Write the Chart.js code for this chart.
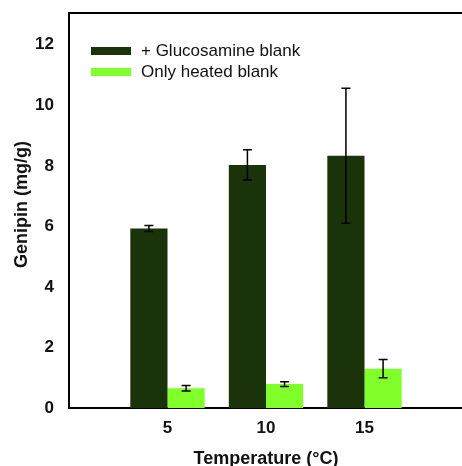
<!DOCTYPE html>
<html>
<head>
<meta charset="utf-8">
<script src="https://cdn.jsdelivr.net/npm/chart.js@4/dist/chart.umd.min.js"></script>
<style>
  html, body { margin: 0; padding: 0; background: #fff; overflow: hidden; }
  #wrap { width: 465px; height: 466px; position: relative; }
</style>
</head>
<body>
<div id="wrap"><canvas id="c"></canvas></div>
<script>
// Temperatures (°C)
const categories = ['5', '10', '15'];

// Genipin (mg/g) with the glucosamine blank, and standard deviations
const glucosamine = [5.93, 8.03, 8.33];
const glucosamineErr = [0.1, 0.5, 2.23];

// Genipin (mg/g) with the heated-only blank, and standard deviations
const heated = [0.65, 0.79, 1.3];
const heatedErr = [0.09, 0.08, 0.3];

const yTicks = [0, 2, 4, 6, 8, 10, 12];
const yTitle = 'Genipin (mg/g)';

const FONT = "'Liberation Sans', Arial, sans-serif";
const DARK = '#1b330b';
const LIGHT = '#80ff2a';

// Empty slots at both ends leave a gap before the first and after the last group
const labels = ['', ...categories, ''];
const pad = arr => [null, ...arr, null];

const errorBars = {
  id: 'errorBars',
  afterDatasetsDraw(chart) {
    const { ctx } = chart;
    const y = chart.scales.y;
    chart.data.datasets.forEach((ds, di) => {
      const meta = chart.getDatasetMeta(di);
      meta.data.forEach((bar, i) => {
        const v = ds.data[i];
        const e = ds.errors[i];
        if (v == null || e == null) return;
        const x = bar.x;
        const top = y.getPixelForValue(v + e);
        const bot = y.getPixelForValue(v - e);
        ctx.save();
        ctx.strokeStyle = '#000';
        ctx.lineWidth = 1.5;
        ctx.beginPath();
        ctx.moveTo(x, top); ctx.lineTo(x, bot);
        ctx.moveTo(x - 4.5, top); ctx.lineTo(x + 4.5, top);
        ctx.moveTo(x - 4.5, bot); ctx.lineTo(x + 4.5, bot);
        ctx.stroke();
        ctx.restore();
      });
    });
  }
};

const frameAndLegend = {
  id: 'frameAndLegend',
  afterDraw(chart) {
    const { ctx, chartArea } = chart;
    ctx.save();
    // top frame line
    ctx.strokeStyle = '#000';
    ctx.lineWidth = 2;
    ctx.beginPath();
    ctx.moveTo(chartArea.left, chartArea.top);
    ctx.lineTo(chartArea.right + 5, chartArea.top);
    ctx.stroke();

    // y axis title, set a little above the middle of the plot
    ctx.save();
    ctx.translate(22, (chartArea.top + chartArea.bottom) / 2 - 6);
    ctx.rotate(-Math.PI / 2);
    ctx.font = 'bold 18px ' + FONT;
    ctx.fillStyle = '#111';
    ctx.textAlign = 'center';
    ctx.textBaseline = 'middle';
    ctx.fillText(yTitle, 0, 0);
    ctx.restore();

    // legend inside the plot, top-left
    const x0 = chartArea.left + 22;
    const y0 = chartArea.top + 38;
    ctx.font = '17px ' + FONT;
    ctx.textBaseline = 'middle';
    ctx.textAlign = 'left';
    chart.data.datasets.forEach((ds, i) => {
      const cy = y0 + i * 21;
      ctx.fillStyle = ds.backgroundColor;
      ctx.fillRect(x0, cy - 4, 40, 8);
      ctx.fillStyle = '#111';
      ctx.fillText(ds.label, x0 + 50, cy);
    });
    ctx.restore();
  }
};

new Chart(document.getElementById('c'), {
  type: 'bar',
  data: {
    labels,
    datasets: [
      { label: '+ Glucosamine blank', data: pad(glucosamine), errors: pad(glucosamineErr), backgroundColor: DARK },
      { label: 'Only heated blank', data: pad(heated), errors: pad(heatedErr), backgroundColor: LIGHT }
    ]
  },
  options: {
    responsive: true,
    maintainAspectRatio: false,
    animation: false,
    layout: { padding: { top: 13, left: 0, right: 0, bottom: 0 } },
    categoryPercentage: 0.755,
    barPercentage: 1,
    plugins: { legend: { display: false }, tooltip: { enabled: false } },
    scales: {
      x: {
        offset: false,
        grid: { display: false },
        border: { display: true, color: '#000', width: 2 },
        ticks: { color: '#111', padding: 2, maxRotation: 0, autoSkip: false,
                  font: { family: FONT, size: 17, weight: 'bold' } },
        title: { display: true, text: 'Temperature (°C)', color: '#111',
                 padding: { top: 0, bottom: -4 },
                 font: { family: FONT, size: 18, weight: 'bold' } },
        afterFit(s) { s.height = 58; }
      },
      y: {
        min: 0,
        max: 13.05,
        grid: { display: false },
        border: { display: true, color: '#000', width: 2 },
        afterBuildTicks(s) { s.ticks = yTicks.map(v => ({ value: v })); },
        ticks: { color: '#111', padding: 7,
                 font: { family: FONT, size: 17, weight: 'bold' } },
        afterFit(s) { s.width = 69; s.paddingTop = 0; s.paddingBottom = 0; }
      }
    }
  },
  plugins: [errorBars, frameAndLegend]
});
</script>
</body>
</html>
